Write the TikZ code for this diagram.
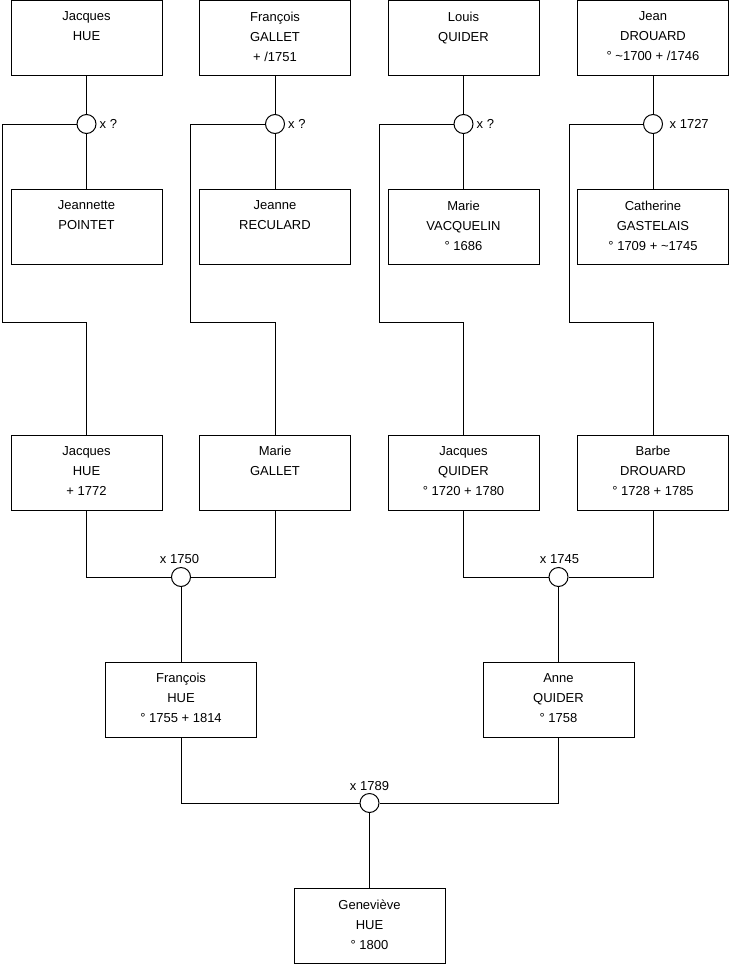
\documentclass[tikz,border=0pt]{standalone}
\usepackage{fontspec}
\setmainfont{Liberation Sans}
\begin{document}
\begin{tikzpicture}[x=1pt,y=-1pt,
  box/.style={draw, line width=1pt, minimum width=151pt, minimum height=75pt, inner sep=0pt},
  txt/.style={anchor=north, align=center, inner sep=0pt, font=\fontsize{13}{20}\selectfont},
  wed/.style={draw, circle, minimum size=19pt, inner sep=0pt, fill=white, line width=1pt},
  lbl/.style={inner sep=0pt, font=\fontsize{13}{15}\selectfont},
  link/.style={line width=1pt}]
\useasboundingbox[fill=white] (0,0) rectangle (740,975);

% row 1
\node[box] (a1) at (86.5,38) {};
\node[txt] (a1t) at (86.5,11.5) {Jacques\\HUE};
\node[box] (a2) at (275,38) {};
\node[txt] (a2t) at (275,11.5) {François\\GALLET\\+ /1751};
\node[box] (a3) at (463.5,38) {};
\node[txt] (a3t) at (463.5,11.5) {Louis\\QUIDER};
\node[box] (a4) at (653,38) {};
\node[txt] (a4t) at (653,11.5) {Jean\\DROUARD\\° \textasciitilde1700 + /1746};

% row 2
\node[box] (b1) at (86.5,227) {};
\node[txt] (b1t) at (86.5,200.5) {Jeannette\\POINTET};
\node[box] (b2) at (275,227) {};
\node[txt] (b2t) at (275,200.5) {Jeanne\\RECULARD};
\node[box] (b3) at (463.5,227) {};
\node[txt] (b3t) at (463.5,200.5) {Marie\\VACQUELIN\\° 1686};
\node[box] (b4) at (653,227) {};
\node[txt] (b4t) at (653,200.5) {Catherine\\GASTELAIS\\° 1709 + \textasciitilde1745};

% row 3
\node[box] (c1) at (86.5,472.5) {};
\node[txt] (c1t) at (86.5,446) {Jacques\\HUE\\+ 1772};
\node[box] (c2) at (275,472.5) {};
\node[txt] (c2t) at (275,446) {Marie\\GALLET};
\node[box] (c3) at (463.5,472.5) {};
\node[txt] (c3t) at (463.5,446) {Jacques\\QUIDER\\° 1720 + 1780};
\node[box] (c4) at (653,472.5) {};
\node[txt] (c4t) at (653,446) {Barbe\\DROUARD\\° 1728 + 1785};

% row 4
\node[box] (d1) at (181,699.5) {};
\node[txt] (d1t) at (181,673) {François\\HUE\\° 1755 + 1814};
\node[box] (d2) at (558.5,699.5) {};
\node[txt] (d2t) at (558.5,673) {Anne\\QUIDER\\° 1758};

% row 5
\node[box] (e1) at (369.5,926) {};
\node[txt] (e1t) at (369.5,899.5) {Geneviève\\HUE\\° 1800};

% marriages
\node[wed] (w1) at (86.5,124) {};
\node[wed] (w2) at (275,124) {};
\node[wed] (w3) at (463.5,124) {};
\node[wed] (w4) at (653,124) {};
\node[wed] (w5) at (181,577) {};
\node[wed] (w6) at (558.5,577) {};
\node[wed] (w7) at (369.5,803) {};

\node[lbl, anchor=west] (l1) at (99.5,124) {x ?};
\node[lbl, anchor=west] (l2) at (288,124) {x ?};
\node[lbl, anchor=west] (l3) at (476.5,124) {x ?};
\node[lbl, anchor=west] (l4) at (669.5,124) {x 1727};
\node[lbl, anchor=base] (l5) at (179.5,563) {x 1750};
\node[lbl, anchor=base] (l6) at (559.5,563) {x 1745};
\node[lbl, anchor=base] (l7) at (369.5,790) {x 1789};

\coordinate (k1) at (2,322);
\coordinate (k2) at (190.5,322);
\coordinate (k3) at (379,322);
\coordinate (k4) at (569,322);

% connectors
\foreach \i in {1,2,3,4}{
  \draw[link] (a\i.south) -- (w\i.north);
  \draw[link] (w\i.south) -- (b\i.north);
  \draw[link] (w\i.west) -| (k\i) -| (c\i.north);
}
\draw[link] (c1.south) |- (w5.west);
\draw[link] (c2.south) |- (w5.east);
\draw[link] (w5.south) -- (d1.north);
\draw[link] (c3.south) |- (w6.west);
\draw[link] (c4.south) |- (w6.east);
\draw[link] (w6.south) -- (d2.north);
\draw[link] (d1.south) |- (w7.west);
\draw[link] (d2.south) |- (w7.east);
\draw[link] (w7.south) -- (e1.north);
\end{tikzpicture}
\end{document}
